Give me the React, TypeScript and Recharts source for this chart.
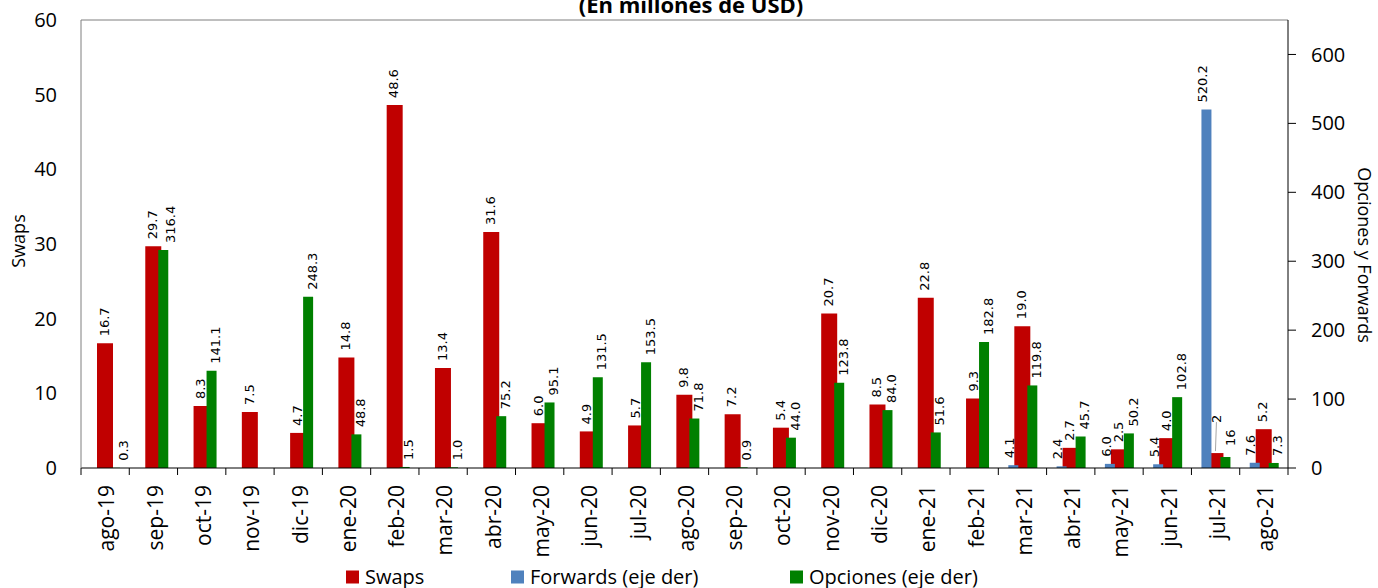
import React from "react";
import { BarChart, Bar, XAxis, YAxis, Legend, ReferenceLine } from "recharts";

const months = [
  "ago-19", "sep-19", "oct-19", "nov-19", "dic-19", "ene-20", "feb-20", "mar-20", "abr-20",
  "may-20", "jun-20", "jul-20", "ago-20", "sep-20", "oct-20", "nov-20", "dic-20", "ene-21",
  "feb-21", "mar-21", "abr-21", "may-21", "jun-21", "jul-21", "ago-21",
];
const swaps = [
  16.7, 29.7, 8.3, 7.5, 4.7, 14.8, 48.6, 13.4, 31.6, 6.0, 4.9, 5.7, 9.8, 7.2, 5.4, 20.7, 8.5,
  22.8, 9.3, 19.0, 2.7, 2.5, 4.0, 2.0, 5.2,
];
const forwards: (number | null)[] = [
  null, null, null, null, null, null, null, null, null, null, null, null, null, null, null,
  null, null, null, null, 4.1, 2.4, 6.0, 5.4, 520.2, 7.6,
];
const opciones: (number | null)[] = [
  0.3, 316.4, 141.1, null, 248.3, 48.8, 1.5, 1.0, 75.2, 95.1, 131.5, 153.5, 71.8, 0.9, 44.0,
  123.8, 84.0, 51.6, 182.8, 119.8, 45.7, 50.2, 102.8, 16, 7.3,
];
const leftTicks = [0, 10, 20, 30, 40, 50, 60];
const rightTicks = [0, 100, 200, 300, 400, 500, 600];
const integerLabels: Record<string, string[]> = {
  swaps: ["jul-21"],
  forwards: [],
  opciones: ["jul-21"],
};

const data = months.map((m, i) => ({
  month: m,
  swaps: swaps[i],
  forwards: forwards[i],
  opciones: opciones[i],
}));

const RED = "#C00000";
const BLUE = "#4F81BD";
const GREEN = "#008000";
const W = 1378;
const H = 588;
const PLOT_LEFT = 81;
const PLOT_RIGHT = 1288;
const BAND = (PLOT_RIGHT - PLOT_LEFT) / months.length;
const SANS = "'Open Sans', 'Noto Sans', sans-serif";
const LABEL_FONT = "'DejaVu Sans', sans-serif";

type Adj = { dx?: number; dy?: number; leader?: boolean };
const labelDefaults: Record<string, number> = { swaps: -1, forwards: -4, opciones: 4 };
const labelAdjust: Record<string, Record<string, Adj>> = {
  swaps: { "jul-21": { dx: 1, dy: -23, leader: true } },
  forwards: {},
  opciones: { "ago-19": { dx: 8 }, "sep-19": { dx: 7 }, "jul-21": { dx: 5, dy: -4 } },
};

function makeBarLabel(series: string) {
  return (props: any) => {
    const vb = props.viewBox || {};
    const x = vb.x ?? props.x;
    const y = vb.y ?? props.y;
    const w = vb.width ?? props.width;
    const h = vb.height ?? props.height;
    const value = props.value;
    if (value == null || x == null || y == null) return null;
    const cx = x + w / 2;
    const top = Math.min(y, y + (h || 0));
    const idx = Math.max(0, Math.min(months.length - 1, Math.floor((cx - PLOT_LEFT) / BAND)));
    const month = months[idx];
    const adj = labelAdjust[series][month] || {};
    const dx = adj.dx ?? labelDefaults[series];
    const lx = cx + dx;
    const ly = top - 7 + (adj.dy ?? 0);
    const text = integerLabels[series].includes(month)
      ? String(Math.round(Number(value)))
      : Number(value).toFixed(1);
    return (
      <g>
        {adj.leader ? (
          <line x1={cx} y1={top - 2} x2={lx} y2={ly - 1} stroke="#A6A6A6" strokeWidth={1} />
        ) : null}
        <text
          x={lx}
          y={ly}
          transform={`rotate(-90 ${lx} ${ly})`}
          dy="0.36em"
          textAnchor="start"
          fontFamily={LABEL_FONT}
          fontSize={13}
          fill="#000"
        >
          {text}
        </text>
      </g>
    );
  };
}

const CategoryTick = (props: any) => {
  const { x, y, payload, index } = props;
  const half = BAND / 2;
  const tx = x + 2;
  const ty = y + 17;
  return (
    <g>
      <line x1={x - half} x2={x - half} y1={y} y2={y + 7} stroke="#000" />
      {index === months.length - 1 ? (
        <line x1={x + half} x2={x + half} y1={y} y2={y + 7} stroke="#000" />
      ) : null}
      <text
        x={tx}
        y={ty}
        transform={`rotate(-90 ${tx} ${ty})`}
        textAnchor="end"
        dy="0.35em"
        fontFamily={SANS}
        fontSize={21}
        fill="#000"
      >
        {payload.value}
      </text>
    </g>
  );
};

const legendItems = [
  { name: "Swaps", color: RED },
  { name: "Forwards (eje der)", color: BLUE },
  { name: "Opciones (eje der)", color: GREEN },
];
const legendLefts = [346, 511, 790];

const LegendContent = () => (
  <svg width={W} height={26} style={{ display: "block", overflow: "visible" }}>
    {legendItems.map((it, i) => (
      <g key={it.name}>
        <rect x={legendLefts[i]} y={4.5} width={13} height={13} fill={it.color} />
        <text x={legendLefts[i] + 19} y={17.5} fontFamily={SANS} fontSize={20} fill="#000">
          {it.name}
        </text>
      </g>
    ))}
  </svg>
);

const LeftTitle = () => (
  <text
    x={19}
    y={241}
    transform="rotate(-90 19 241)"
    textAnchor="middle"
    dy="0.35em"
    fontFamily={SANS}
    fontSize={18}
    fill="#000"
  >
    Swaps
  </text>
);

const RightTitle = () => (
  <text
    x={1364}
    y={255}
    transform="rotate(90 1364 255)"
    textAnchor="middle"
    dy="0.35em"
    fontFamily={SANS}
    fontSize={18}
    fill="#000"
  >
    Opciones y Forwards
  </text>
);

export default function App() {
  return (
    <div style={{ position: "absolute", left: 0, top: 0, width: W, height: H, background: "#fff", overflow: "hidden" }}>
      <BarChart
        width={W}
        height={H}
        data={data}
        margin={{ top: 20, right: 0, left: 0, bottom: 0 }}
        barGap={9}
      >
        <XAxis
          xAxisId="p"
          dataKey="month"
          interval={0}
          height={98}
          axisLine={{ stroke: "#000" }}
          tickLine={false}
          tickSize={0}
          tickMargin={0}
          tick={<CategoryTick />}
        />
        <XAxis xAxisId="s" dataKey="month" hide />
        <YAxis
          yAxisId="left"
          orientation="left"
          width={81}
          domain={[0, 60]}
          ticks={leftTicks}
          axisLine={{ stroke: "#7F7F7F" }}
          tickLine={false}
          tickSize={0}
          tickMargin={24}
          tick={{ fill: "#000", fontSize: 20, fontFamily: SANS }}
          label={<LeftTitle />}
        />
        <YAxis
          yAxisId="right"
          orientation="right"
          width={90}
          domain={[0, 650]}
          ticks={rightTicks}
          axisLine={{ stroke: "#000" }}
          tickLine={{ stroke: "#000" }}
          tickSize={8}
          tickMargin={15}
          tick={{ fill: "#000", fontSize: 20, fontFamily: SANS }}
          label={<RightTitle />}
        />
        <ReferenceLine xAxisId="p" yAxisId="left" y={60} stroke="#7F7F7F" />
        <Legend
          verticalAlign="bottom"
          content={<LegendContent />}
          wrapperStyle={{ left: 0, width: W, top: 566, bottom: "auto", height: 22 }}
        />
        <Bar
          name="Swaps"
          dataKey="swaps"
          xAxisId="p"
          yAxisId="left"
          fill={RED}
          barSize={16}
          isAnimationActive={false}
          label={makeBarLabel("swaps")}
        />
        <Bar
          name="Forwards (eje der)"
          dataKey="forwards"
          xAxisId="s"
          yAxisId="right"
          fill={BLUE}
          barSize={10}
          isAnimationActive={false}
          label={makeBarLabel("forwards")}
        />
        <Bar
          name="Opciones (eje der)"
          dataKey="opciones"
          xAxisId="s"
          yAxisId="right"
          fill={GREEN}
          barSize={10}
          isAnimationActive={false}
          label={makeBarLabel("opciones")}
        />
      </BarChart>
      <svg
        width={W}
        height={30}
        style={{ position: "absolute", left: 0, top: 0, pointerEvents: "none" }}
      >
        <text x={691} y={13} textAnchor="middle" fontFamily={SANS} fontWeight="bold" fontSize={22} fill="#000">
          (En millones de USD)
        </text>
      </svg>
    </div>
  );
}
